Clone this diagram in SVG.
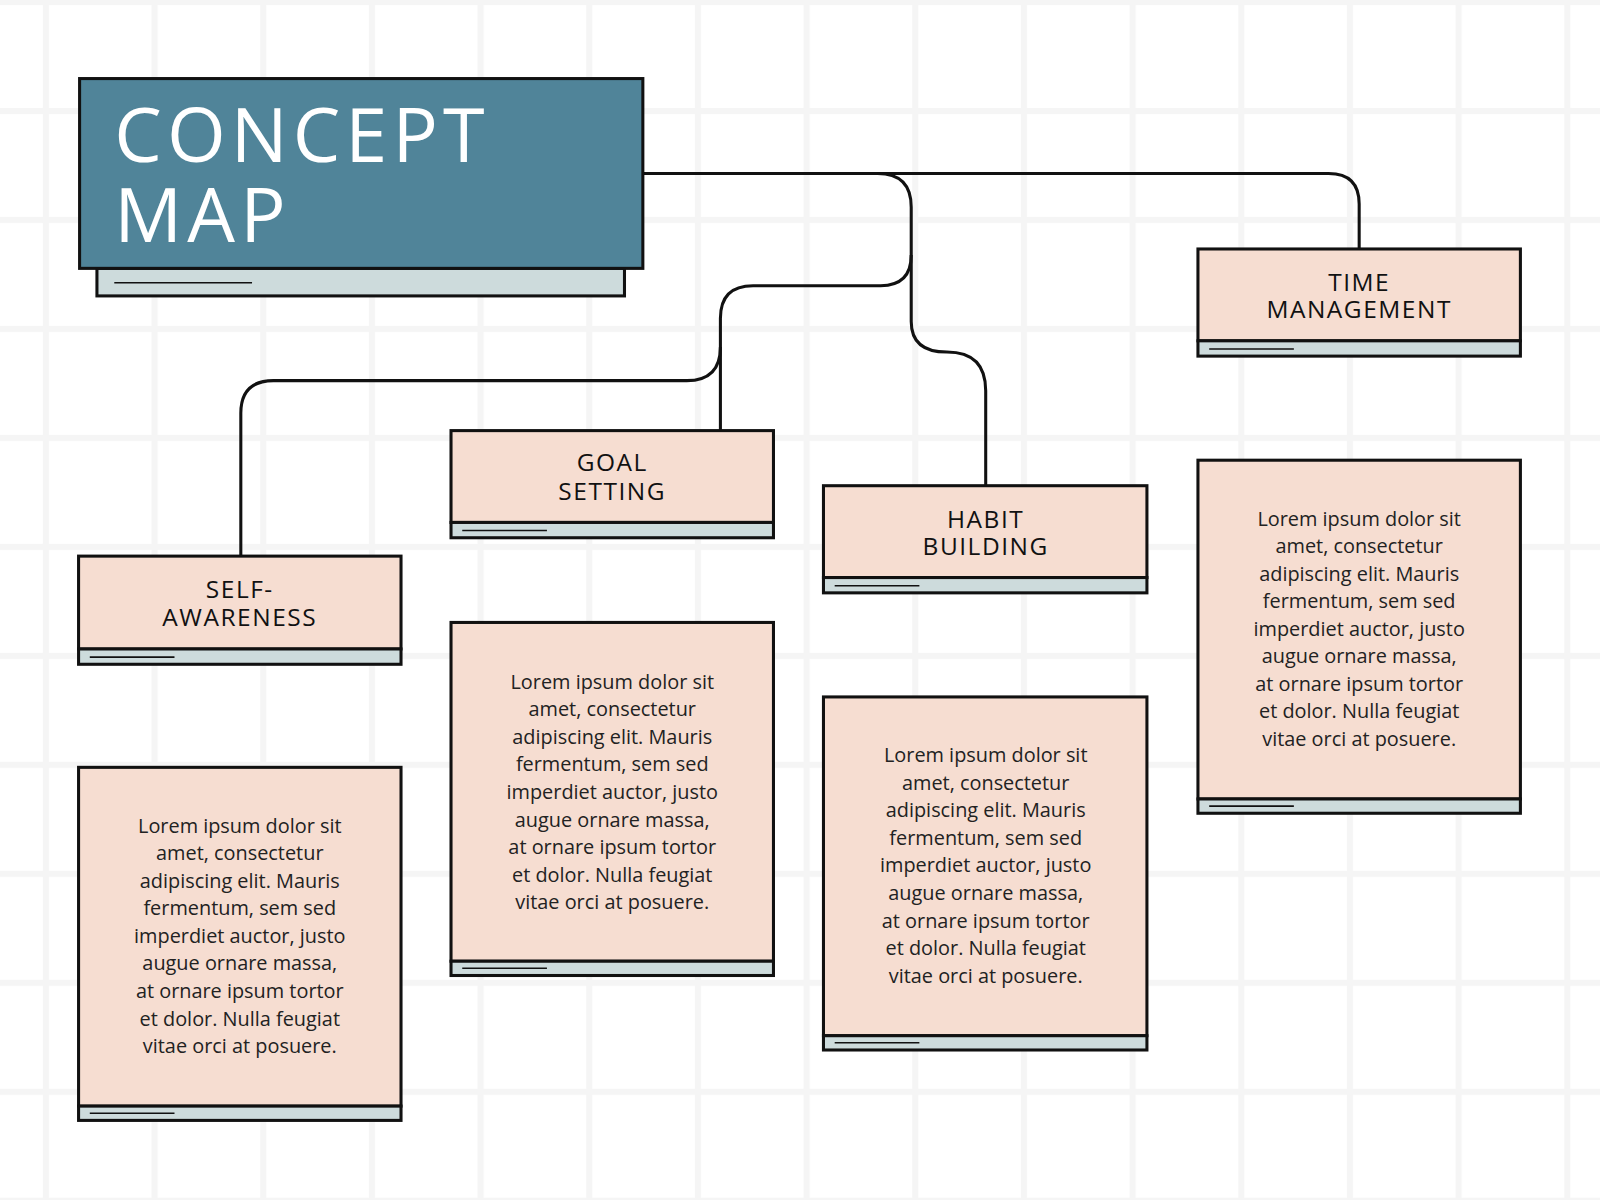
<svg xmlns="http://www.w3.org/2000/svg" width="1600" height="1200" viewBox="0 0 1600 1200">
<defs>
<pattern id="grid" x="42" y="-1" width="106.5" height="106.8" patternUnits="userSpaceOnUse">
<rect x="0" y="0" width="6" height="106.8" fill="#f5f5f5"/>
<rect x="0" y="0" width="106.5" height="6" fill="#f5f5f5"/>
</pattern>
<style>
.card{fill:#f6ddd1;stroke:#111;stroke-width:3}
.bar{fill:#cddbdc;stroke:#111;stroke-width:3}
.ln{stroke:#111;stroke-width:1.5}
.lbl{font-family:"Open Sans","Noto Sans",sans-serif;font-size:24px;fill:#111;text-anchor:middle;letter-spacing:1.5px}
.body{font-family:"Open Sans","Noto Sans",sans-serif;font-size:19.5px;fill:#222;text-anchor:middle}
.con{fill:none;stroke:#111;stroke-width:3}
</style>
</defs>
<rect width="1600" height="1200" fill="#fff"/>
<g transform="scale(1.0204)">
<rect width="1568" height="1176" fill="url(#grid)"/>
<g id="connectors">
<path class="con" d="M630 170 H1302 Q1332 170 1332 200 V244"/>
<path class="con" d="M860 170 Q893 170 893 203 V250 Q893 280 863 280 H738 Q706 280 706 312 V422"/>
<path class="con" d="M706 340 Q706 373 673 373 H268 Q236 373 236 405 V545"/>
<path class="con" d="M893 250 V315 Q893 345 928 345 Q966 345 966 383 V476"/>
</g>
<g id="title">
<rect class="bar" x="95" y="263" width="517" height="27"/>
<line class="ln" x1="112" y1="277" x2="247" y2="277"/>
<rect x="78" y="77" width="552" height="186" fill="#508499" stroke="#111" stroke-width="3"/>
<text font-family="'Open Sans','Noto Sans',sans-serif" font-size="74" letter-spacing="5" fill="#fff" x="112" y="159">CONCEPT</text>
<text font-family="'Open Sans','Noto Sans',sans-serif" font-size="74" letter-spacing="5" fill="#fff" x="112" y="237">MAP</text>
</g>
<g id="time">
<rect class="card" x="1174" y="244" width="316" height="90"/>
<rect class="bar" x="1174" y="334" width="316" height="15"/>
<line class="ln" x1="1185" y1="342" x2="1268" y2="342"/>
<text class="lbl" x="1332" y="285">TIME</text>
<text class="lbl" x="1332" y="312">MANAGEMENT</text>
</g>
<g id="goal">
<rect class="card" x="442" y="422" width="316" height="90"/>
<rect class="bar" x="442" y="512" width="316" height="15"/>
<line class="ln" x1="453" y1="520" x2="536" y2="520"/>
<text class="lbl" x="600" y="462">GOAL</text>
<text class="lbl" x="600" y="490">SETTING</text>
</g>
<g id="habit">
<rect class="card" x="807" y="476" width="317" height="90"/>
<rect class="bar" x="807" y="566" width="317" height="15"/>
<line class="ln" x1="818" y1="574" x2="901" y2="574"/>
<text class="lbl" x="966" y="517">HABIT</text>
<text class="lbl" x="966" y="544">BUILDING</text>
</g>
<g id="self">
<rect class="card" x="77" y="545" width="316" height="91"/>
<rect class="bar" x="77" y="636" width="316" height="15"/>
<line class="ln" x1="88" y1="644" x2="171" y2="644"/>
<text class="lbl" x="235" y="586">SELF-</text>
<text class="lbl" x="235" y="613">AWARENESS</text>
</g>
<g id="self-text">
<rect class="card" x="77" y="752" width="316" height="332"/>
<rect class="bar" x="77" y="1084" width="316" height="14"/>
<line class="ln" x1="88" y1="1091" x2="171" y2="1091"/>
<text class="body" x="235" y="816">Lorem ipsum dolor sit<tspan x="235" dy="27">amet, consectetur</tspan><tspan x="235" dy="27">adipiscing elit. Mauris</tspan><tspan x="235" dy="27">fermentum, sem sed</tspan><tspan x="235" dy="27">imperdiet auctor, justo</tspan><tspan x="235" dy="27">augue ornare massa,</tspan><tspan x="235" dy="27">at ornare ipsum tortor</tspan><tspan x="235" dy="27">et dolor. Nulla feugiat</tspan><tspan x="235" dy="27">vitae orci at posuere.</tspan></text>
</g>
<g id="goal-text">
<rect class="card" x="442" y="610" width="316" height="332"/>
<rect class="bar" x="442" y="942" width="316" height="14"/>
<line class="ln" x1="453" y1="949" x2="536" y2="949"/>
<text class="body" x="600" y="675">Lorem ipsum dolor sit<tspan x="600" dy="27">amet, consectetur</tspan><tspan x="600" dy="27">adipiscing elit. Mauris</tspan><tspan x="600" dy="27">fermentum, sem sed</tspan><tspan x="600" dy="27">imperdiet auctor, justo</tspan><tspan x="600" dy="27">augue ornare massa,</tspan><tspan x="600" dy="27">at ornare ipsum tortor</tspan><tspan x="600" dy="27">et dolor. Nulla feugiat</tspan><tspan x="600" dy="27">vitae orci at posuere.</tspan></text>
</g>
<g id="habit-text">
<rect class="card" x="807" y="683" width="317" height="332"/>
<rect class="bar" x="807" y="1015" width="317" height="14"/>
<line class="ln" x1="818" y1="1022" x2="901" y2="1022"/>
<text class="body" x="966" y="747">Lorem ipsum dolor sit<tspan x="966" dy="27">amet, consectetur</tspan><tspan x="966" dy="27">adipiscing elit. Mauris</tspan><tspan x="966" dy="27">fermentum, sem sed</tspan><tspan x="966" dy="27">imperdiet auctor, justo</tspan><tspan x="966" dy="27">augue ornare massa,</tspan><tspan x="966" dy="27">at ornare ipsum tortor</tspan><tspan x="966" dy="27">et dolor. Nulla feugiat</tspan><tspan x="966" dy="27">vitae orci at posuere.</tspan></text>
</g>
<g id="time-text">
<rect class="card" x="1174" y="451" width="316" height="332"/>
<rect class="bar" x="1174" y="783" width="316" height="14"/>
<line class="ln" x1="1185" y1="790" x2="1268" y2="790"/>
<text class="body" x="1332" y="515">Lorem ipsum dolor sit<tspan x="1332" dy="27">amet, consectetur</tspan><tspan x="1332" dy="27">adipiscing elit. Mauris</tspan><tspan x="1332" dy="27">fermentum, sem sed</tspan><tspan x="1332" dy="27">imperdiet auctor, justo</tspan><tspan x="1332" dy="27">augue ornare massa,</tspan><tspan x="1332" dy="27">at ornare ipsum tortor</tspan><tspan x="1332" dy="27">et dolor. Nulla feugiat</tspan><tspan x="1332" dy="27">vitae orci at posuere.</tspan></text>
</g>
</g>
</svg>
